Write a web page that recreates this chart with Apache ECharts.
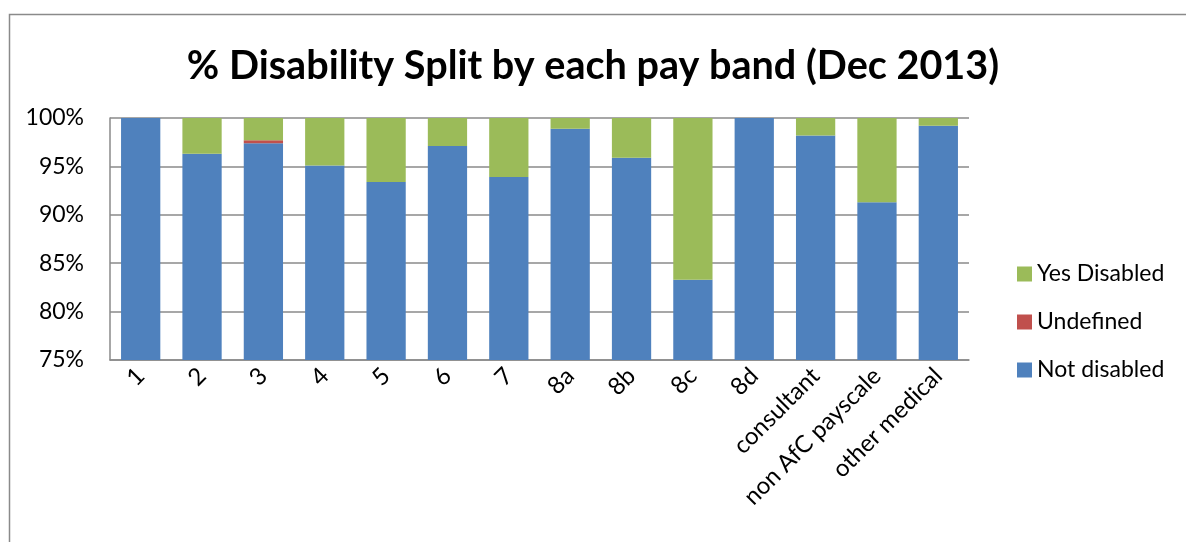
<!DOCTYPE html>
<html>
<head>
<meta charset="utf-8">
<script src="https://cdn.jsdelivr.net/npm/echarts@6/dist/echarts.min.js"></script>
<style>
  html, body { margin: 0; padding: 0; background: #fff; }
  #chart { width: 1186px; height: 542px; }
</style>
</head>
<body>
<div id="chart"></div>
<script>
// Pay bands shown along the x axis
const payBands = ['1', '2', '3', '4', '5', '6', '7', '8a', '8b', '8c', '8d', 'consultant', 'non AfC payscale', 'other medical'];

// Share of staff in each band (%), stacked bottom-up
const notDisabled = [100, 96.3, 97.4, 95.1, 93.4, 97.1, 93.9, 98.9, 95.9, 83.3, 100, 98.2, 91.3, 99.2];
const undefinedStatus = [0, 0, 0.3, 0, 0, 0, 0, 0, 0, 0, 0, 0, 0, 0];
const yesDisabled = [0, 3.7, 2.3, 4.9, 6.6, 2.9, 6.1, 1.1, 4.1, 16.7, 0, 1.8, 8.7, 0.8];

const FONT = 'Lato, "Open Sans", sans-serif';
const chart = echarts.init(document.getElementById('chart'), null, { renderer: 'canvas' });

chart.setOption({
  animation: false,
  backgroundColor: '#ffffff',
  graphic: [{
    type: 'rect',
    left: 7, top: 12,
    shape: { width: 1300, height: 700 },
    style: { fill: 'none', stroke: '#8a8a8a', lineWidth: 1.5 },
    silent: true,
    z: -10
  }],
  title: {
    text: '% Disability Split by each pay band (Dec 2013)',
    left: 'center',
    top: 41,
    textStyle: { fontFamily: FONT, fontWeight: 'bold', fontSize: 39.6, color: '#000' }
  },
  legend: {
    orient: 'vertical',
    left: 1012,
    top: 257,
    itemWidth: 15,
    itemHeight: 15,
    itemGap: 24,
    icon: 'rect',
    data: ['Yes Disabled', 'Undefined', 'Not disabled'],
    textStyle: { fontFamily: FONT, fontSize: 23, color: '#000', lineHeight: 24, padding: [0, 0, 0, 0] }
  },
  grid: { left: 110, right: 217, top: 118, bottom: 182, containLabel: false },
  xAxis: {
    type: 'category',
    data: payBands,
    axisLine: { show: true, lineStyle: { color: '#8a8a8a', width: 1.5 } },
    axisTick: { show: false },
    axisLabel: {
      rotate: 45, interval: 0, margin: 12,
      fontFamily: FONT, fontSize: 24, color: '#000'
    }
  },
  yAxis: {
    type: 'value',
    min: 75, max: 100, interval: 5,
    axisLine: { show: true, lineStyle: { color: '#8a8a8a', width: 1.5 } },
    axisTick: { show: false },
    splitLine: { show: true, lineStyle: { color: '#8a8a8a', width: 1.5 } },
    axisLabel: {
      formatter: '{value}%', margin: 26,
      fontFamily: FONT, fontSize: 23, color: '#000'
    }
  },
  series: [
    {
      name: 'Not disabled', type: 'bar', stack: 'band',
      data: notDisabled, barCategoryGap: '36%',
      itemStyle: { color: '#4F81BD' }
    },
    {
      name: 'Undefined', type: 'bar', stack: 'band',
      data: undefinedStatus,
      itemStyle: { color: '#C0504D' }
    },
    {
      name: 'Yes Disabled', type: 'bar', stack: 'band',
      data: yesDisabled,
      itemStyle: { color: '#9BBB59' }
    }
  ]
});
</script>
</body>
</html>
